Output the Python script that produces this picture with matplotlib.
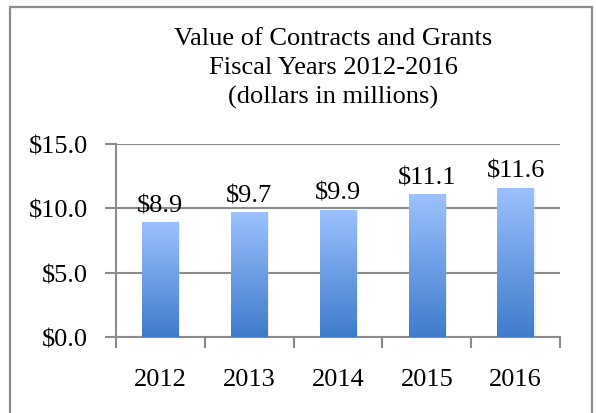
import numpy as np
import matplotlib
matplotlib.use("Agg")
import matplotlib.pyplot as plt
from matplotlib.colors import LinearSegmentedColormap
from matplotlib.patches import Rectangle

# data
years = ["2012", "2013", "2014", "2015", "2016"]
values = [8.9, 9.7, 9.9, 11.1, 11.6]
yticks = [0, 5, 10, 15]

plt.rcParams['font.family'] = ['Liberation Serif', 'DejaVu Serif']

fig = plt.figure(figsize=(5.96, 4.14), dpi=100)
ax = fig.add_axes([116/596, 1 - 338/414, (560 - 116)/596, (338 - 145)/414])

# outer frame of the chart
frame = Rectangle((10/596, -0.05), (592 - 10)/596, 1.05 - 8/414,
                  transform=fig.transFigure, fill=False,
                  edgecolor='#8c8c8c', lw=1.6)
fig.patches.append(frame)

x = np.arange(len(years))
w = 0.41
grid_c = '#8c8c8c'
fs = 19

ax.set_xlim(-0.5, len(years) - 0.5)
ax.set_ylim(0, 15)
for v in yticks:
    ax.axhline(v, color=grid_c, lw=1.5, zorder=1)

grad = LinearSegmentedColormap.from_list('g', ['#3f7bcb', '#9cc1fe'])
img = np.linspace(0, 1, 256).reshape(-1, 1)

for xi, v in zip(x, values):
    # soft shadow
    sh = Rectangle((xi - w/2 + 0.02, -0.12), w, v, facecolor='#c8c8c8',
                   alpha=0.3, edgecolor='none', zorder=2)
    ax.add_patch(sh)
    bar = ax.bar(xi, v, width=w, color='none', edgecolor='none', zorder=3)[0]
    im = ax.imshow(img, cmap=grad, aspect='auto', origin='lower',
                   extent=[xi - w/2, xi + w/2, 0, v], zorder=3)
    im.set_clip_path(bar)
    ax.text(xi, v + 0.45, f"${v:.1f}", ha='center', va='bottom',
            fontsize=fs)

ax.set_xlim(-0.5, len(years) - 0.5)
ax.set_ylim(0, 15)

ax.set_yticks(yticks)
ax.set_yticklabels([f"${v:.1f}" for v in yticks], fontsize=fs)
ax.tick_params(axis='y', length=8, width=1.5, color=grid_c, pad=12)

ax.set_xticks(np.arange(-0.5, len(years), 1.0))
ax.set_xticklabels([])
ax.set_xticks(x, minor=True)
ax.set_xticklabels(years, minor=True, fontsize=fs)
ax.tick_params(axis='x', which='major', length=8, width=1.5, color=grid_c)
ax.tick_params(axis='x', which='minor', length=0, pad=22)

for s in ['top', 'right']:
    ax.spines[s].set_visible(False)
ax.spines['left'].set_color(grid_c)
ax.spines['left'].set_linewidth(1.5)
ax.spines['bottom'].set_color(grid_c)
ax.spines['bottom'].set_linewidth(1.5)

title_lines = ["Value of Contracts and Grants", "Fiscal Years 2012-2016",
               "(dollars in millions)"]
for ty, t in zip([39, 68, 97], title_lines):
    fig.text(333/596, 1 - ty/414, t, ha='center', va='center', fontsize=19)

fig.savefig("out.png", dpi=100)
